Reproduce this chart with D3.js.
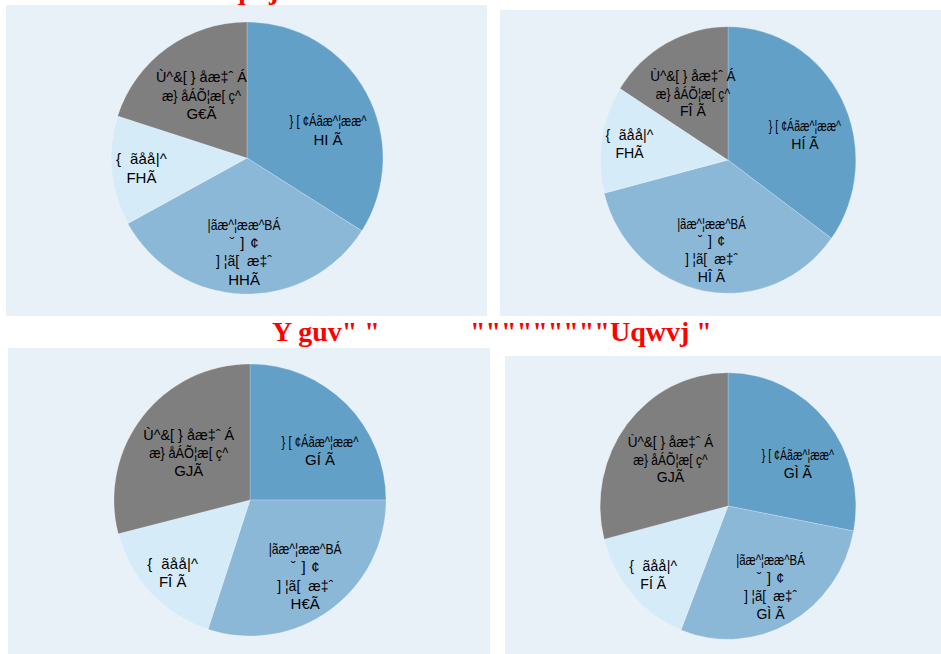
<!DOCTYPE html>
<html>
<head>
<meta charset="utf-8">
<script src="https://cdn.jsdelivr.net/npm/d3@7"></script>
<style>
  html, body { margin: 0; padding: 0; background: #ffffff; }
  svg { display: block; }
</style>
</head>
<body>
<svg id="chart" width="941" height="654"></svg>
<script>
// ---- data -------------------------------------------------------------
// Slice names (each entry is the list of label lines for that slice)
const categories = [
  ["} [ ¢Áãæ^¦ææ^"],
  ["|ãæ^¦ææ^BÁ", "ˇ ] ¢", "] ¦ã[  æ‡ˆ"],
  ["{  ãåå|^"],
  ["Ù^&[ } åæ‡ˆ Á", "æ} åÁÕ¦æ[ ç^"]
];

// Percent shares per region, in category order
const northValues = [34, 33, 13, 20];
const eastValues  = [35, 36, 13, 16];
const westValues  = [25, 30, 16, 29];
const southValues = [28, 28, 15, 29];

// Region headings (two runs per row)
const topTitle    = ['Pqtvj" "', '"""""""""Gcuv "'];
const bottomTitle = ['Y guv" "', '"""""""""Uqwvj "'];

// Glyphs the label font uses for the digits 0-9 and for the percent sign
const digitGlyphs  = ["€", "F", "G", "H", "I ", "Í ", "Î ", "Ï ", "Ì ", "J"];
const percentGlyph = "Ã";

// ---- layout -----------------------------------------------------------
const sliceColors = ["#63a0c8", "#8cb8d8", "#d6ebf8", "#7f7f7f"];
const panelFill = "#e8f0f8";
const labelRadius = [0.63, 0.69, 0.78, 0.57];   // label distance, fraction of radius
const labelTurn   = [0.17, 0, 0, 0];            // extra clockwise turn of label (radians)
// set widths of the name lines (the label face packs its glyphs tightly)
const nameLineWidths = [[77], [73, 29, 56], [51], [91, 79]];

const charts = [
  { values: northValues, panel: [6, 5, 481, 311],   cx: 247, cy: 158, sx: 1,    sy: 1 },
  { values: eastValues,  panel: [500, 10, 441, 306], cx: 728, cy: 160, sx: 0.94, sy: 0.98 },
  { values: westValues,  panel: [8, 348, 482, 306],  cx: 250, cy: 500, sx: 1,    sy: 1 },
  { values: southValues, panel: [505, 356, 436, 298], cx: 728, cy: 506, sx: 0.94, sy: 0.98 }
];

const R = 136;
const labelFont = "'Liberation Sans', Arial, Helvetica, sans-serif";
const fontSize = 15;
const lineHeight = 18.3;

const svg = d3.select("#chart");

const pie = d3.pie().sort(null).value(d => d);
const arc = d3.arc().innerRadius(0).outerRadius(R);

function percentText(v) {
  return String(v).split("").map(d => digitGlyphs[+d]).join("") + percentGlyph;
}

charts.forEach(ch => {
  const [px, py, pw, ph] = ch.panel;
  svg.append("rect")
    .attr("x", px).attr("y", py)
    .attr("width", pw).attr("height", ph)
    .attr("fill", panelFill);

  const g = svg.append("g")
    .attr("transform", `translate(${ch.cx},${ch.cy}) scale(${ch.sx},${ch.sy})`);

  const arcs = pie(ch.values);

  g.selectAll("path.slice")
    .data(arcs)
    .join("path")
    .attr("class", "slice")
    .attr("d", arc)
    .attr("fill", (d, i) => sliceColors[i])
    .attr("stroke", "#ffffff")
    .attr("stroke-opacity", 0.35)
    .attr("stroke-width", 0.6);

  const labels = g.selectAll("g.label")
    .data(arcs)
    .join("g")
    .attr("class", "label")
    .attr("transform", (d, i) => {
      const a = (d.startAngle + d.endAngle) / 2 + labelTurn[i];
      const r = R * labelRadius[i];
      return `translate(${Math.sin(a) * r},${-Math.cos(a) * r})`;
    });

  labels.each(function (d, i) {
    const lines = categories[i].map((t, k) => ({ t, w: nameLineWidths[i][k] }))
      .concat([{ t: percentText(d.data), w: null }]);
    const n = lines.length;
    const txt = d3.select(this).selectAll("text")
      .data(lines)
      .join("text")
      .attr("x", 0)
      .attr("y", (l, k) => (k - (n - 1) / 2) * lineHeight)
      .attr("text-anchor", "middle")
      .attr("dominant-baseline", "central")
      .attr("font-family", labelFont)
      .attr("font-size", fontSize)
      .attr("fill", "#000000")
      .style("white-space", "pre")
      .text(l => l.t);
    // narrow lines: squeeze glyphs and gaps together; short lines: open the gaps
    txt.filter(l => l.w != null).each(function (l) {
      const natural = this.getComputedTextLength();
      d3.select(this)
        .attr("textLength", l.w)
        .attr("lengthAdjust", natural > l.w ? "spacingAndGlyphs" : "spacing");
    });
  });
});

// Region headings
function drawTitle(runs, xs, y) {
  runs.forEach((t, k) => {
    svg.append("text")
      .attr("x", xs[k]).attr("y", y)
      .attr("font-family", "'Liberation Serif', 'Times New Roman', serif")
      .attr("font-weight", "bold")
      .attr("font-size", 28)
      .attr("fill", "#ff0000")
      .style("white-space", "pre")
      .text(t);
  });
}
drawTitle(topTitle, [213, 411], -1);
drawTitle(bottomTitle, [272, 470], 341);
</script>
</body>
</html>
